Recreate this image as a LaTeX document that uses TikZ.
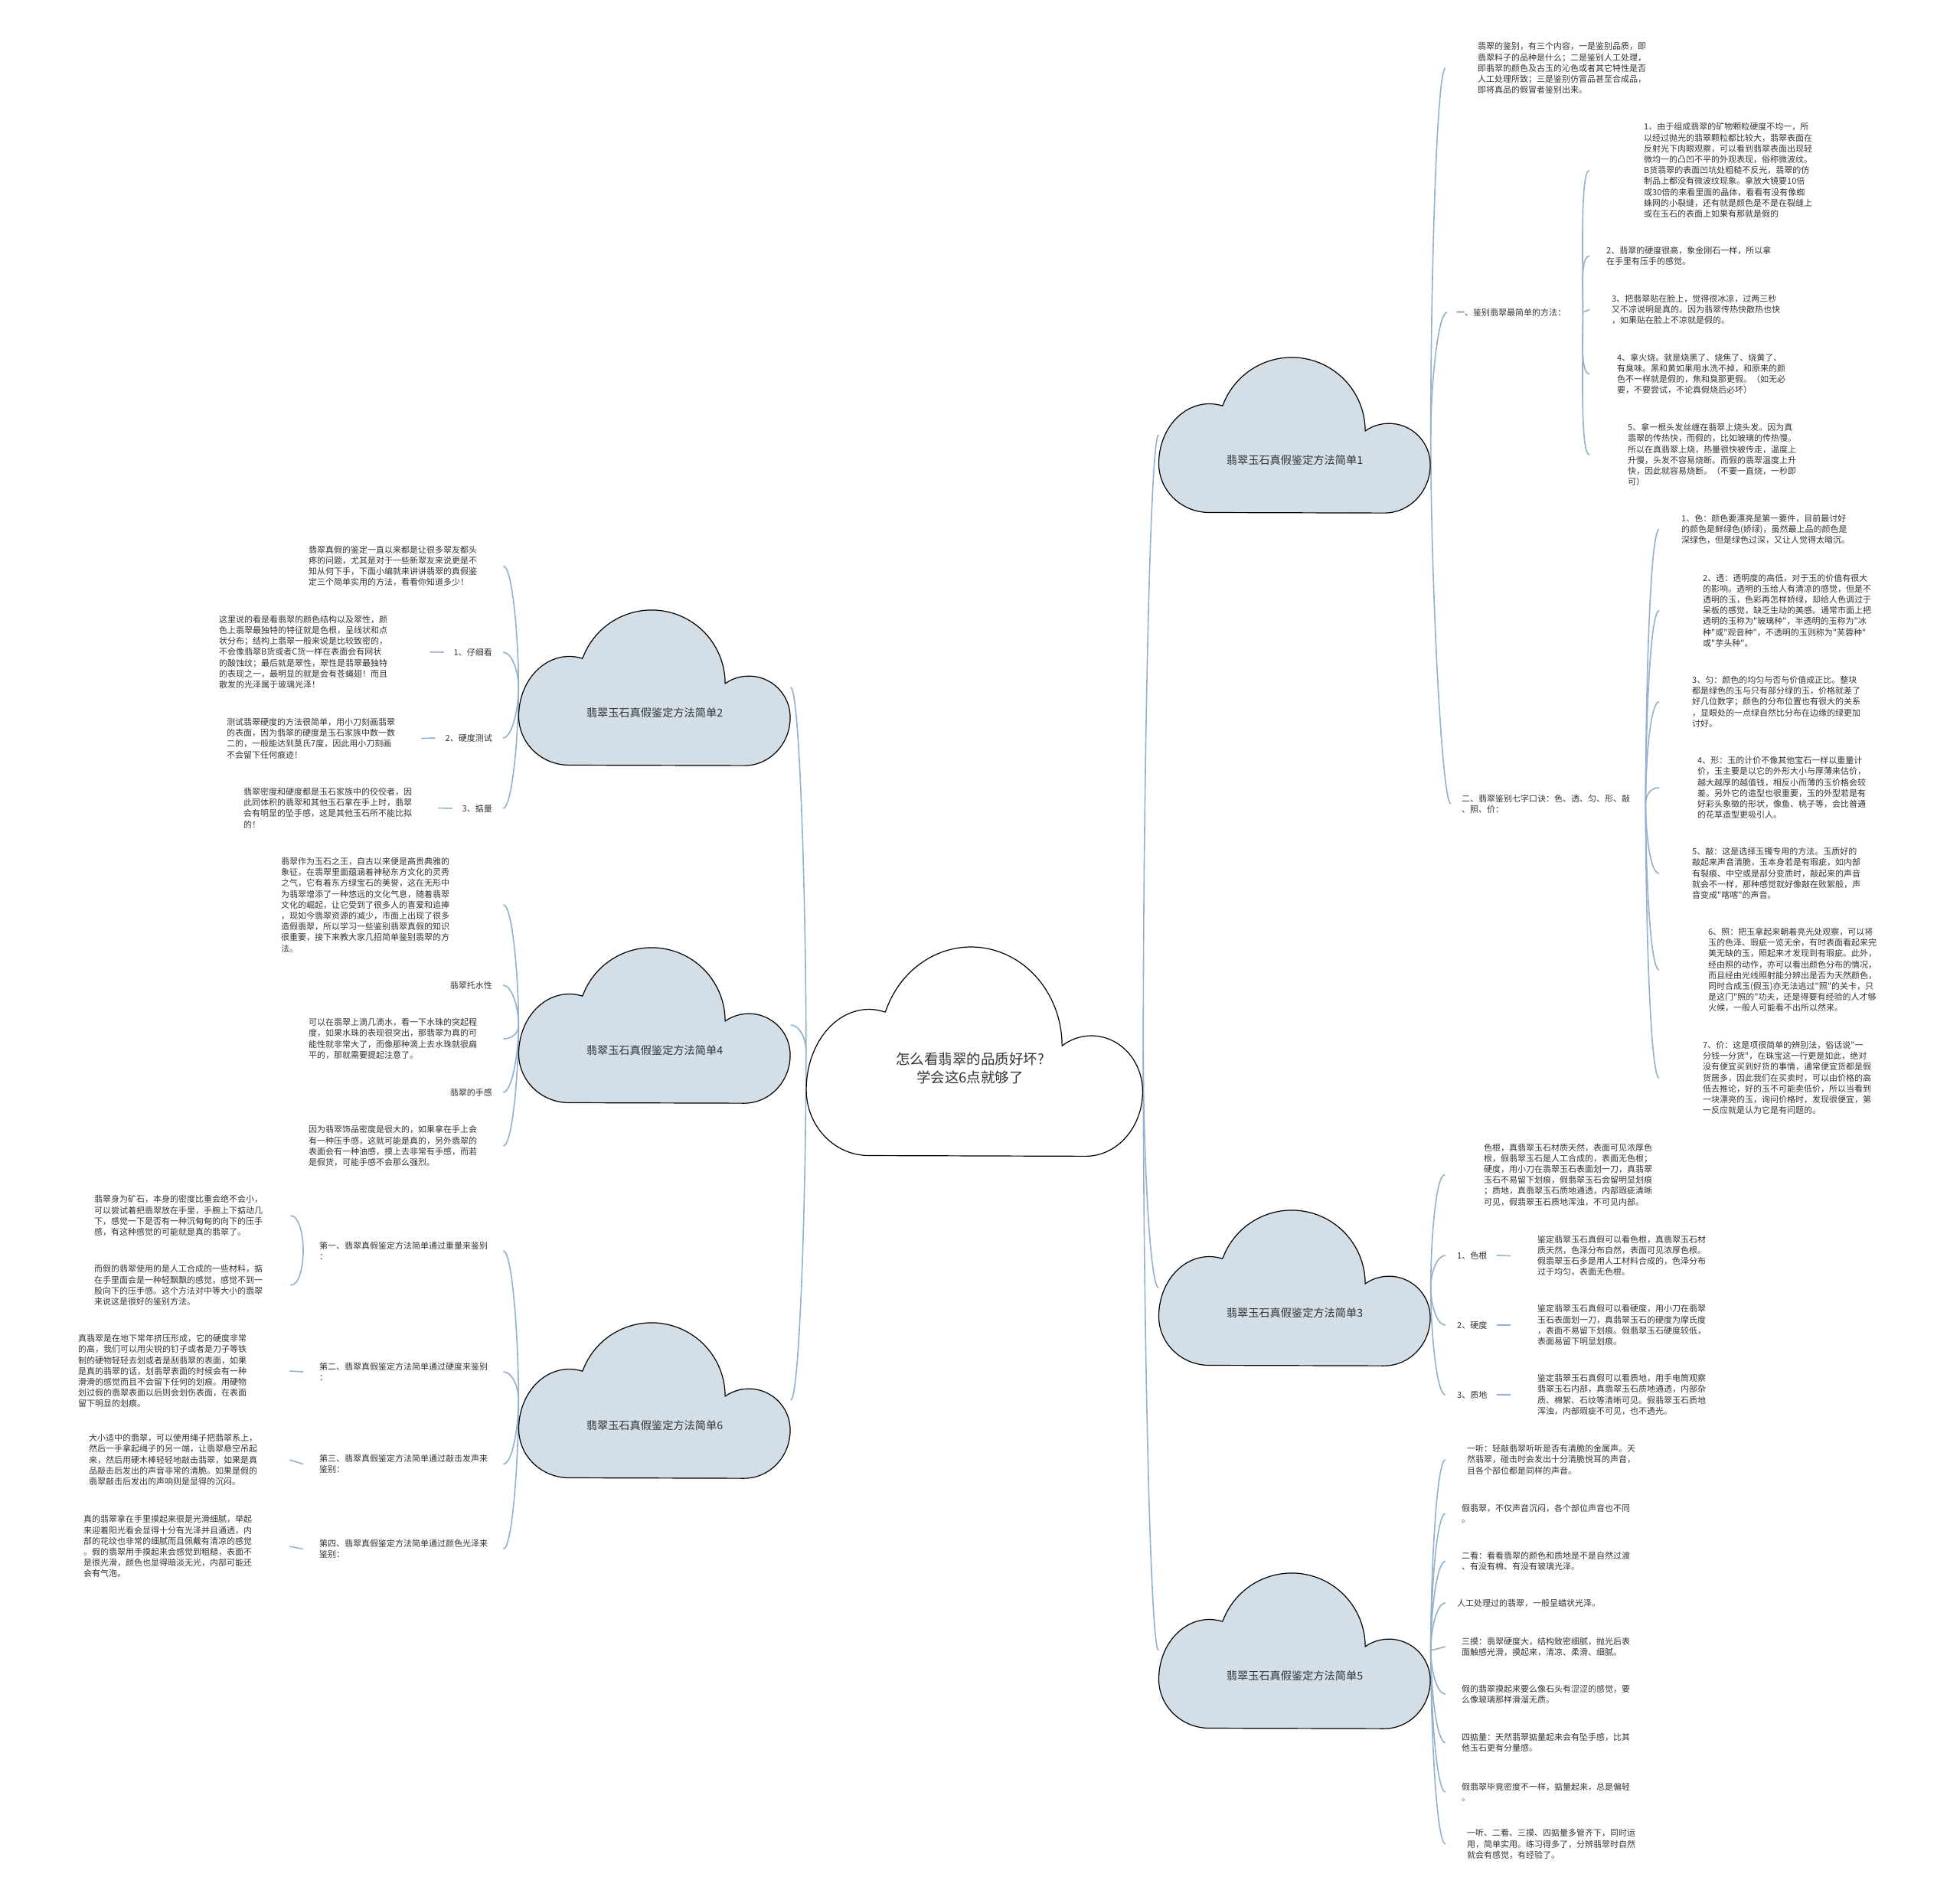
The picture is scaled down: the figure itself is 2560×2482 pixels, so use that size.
\documentclass[tikz,border=0pt]{standalone}
\usepackage{fontspec}
\usepackage{tikz}
\usetikzlibrary{backgrounds}
\newfontfamily\cjk{Noto Sans CJK SC}
\definecolor{linkblue}{HTML}{93B1CD}
\definecolor{cloudfill}{HTML}{D3DEE7}
\definecolor{inkgray}{HTML}{333333}
\newcommand{\leaffont}{\cjk\fontsize{11pt}{14.2pt}\selectfont}
\newcommand{\hubfont}{\cjk\fontsize{14.2pt}{18pt}\selectfont}
\newcommand{\corefont}{\cjk\fontsize{18.5pt}{24pt}\selectfont}

\begin{document}
\begin{tikzpicture}[x=1pt,y=-1pt,
  link/.style={draw=linkblue,line width=1.6pt},
  upR/.style={out=90,in=180,in distance=12pt},
  dnR/.style={out=-90,in=180,in distance=12pt},
  upL/.style={out=90,in=0,in distance=12pt},
  dnL/.style={out=-90,in=0,in distance=12pt},
  leaf/.style={font=\leaffont,align=left,inner sep=0pt,text=inkgray,anchor=west},
  twig/.style={font=\leaffont,inner sep=0pt,text=inkgray,anchor=east},
  hub/.style={minimum width=355pt,minimum height=203pt,inner sep=0pt},
  hubtext/.style={font=\hubfont,text=inkgray,yshift=-33pt},
  core/.style={minimum width=440pt,minimum height=273pt,inner sep=0pt},
  coretext/.style={font=\corefont,text=inkgray,align=center,yshift=-22pt,xshift=-6pt},
  cloud/.pic={\path[pic actions] (-93.5pt,39.5pt)
    arc[start angle=159,end angle=0,radius=96pt]
    arc[start angle=125,end angle=0,radius=54pt]
    arc[start angle=0,end angle=-90,x radius=60pt,y radius=63pt]
    -- (-111.5pt,-101.5pt)
    arc[start angle=-90,end angle=-180,x radius=66pt,y radius=64pt]
    arc[start angle=180,end angle=75,x radius=66pt,y radius=78pt] -- cycle;}]
\path[use as bounding box] (0,0) rectangle (2560,2482);

\pic[draw=black,fill=white,line width=1.2pt,xscale=1.239,yscale=1.345] at (1273,1373) {cloud};
\foreach \cx/\cy in {1691/568,1691/1682,1691/2156,855/898,855/1339,855/1829}
  \pic[draw=black,fill=cloudfill,line width=1.2pt] at (\cx,\cy) {cloud};

\node[core,label={[coretext]center:怎么看翡翠的品质好坏?\\学会这6点就够了}] (core) at (1273,1373) {};
\node[hub,label={[hubtext]center:翡翠玉石真假鉴定方法简单1}] (s1) at (1691,568) {};
\node[hub,label={[hubtext]center:翡翠玉石真假鉴定方法简单3}] (s3) at (1691,1682) {};
\node[hub,label={[hubtext]center:翡翠玉石真假鉴定方法简单5}] (s5) at (1691,2156) {};
\node[hub,label={[hubtext]center:翡翠玉石真假鉴定方法简单2}] (s2) at (855,898) {};
\node[hub,label={[hubtext]center:翡翠玉石真假鉴定方法简单4}] (s4) at (855,1339) {};
\node[hub,label={[hubtext]center:翡翠玉石真假鉴定方法简单6}] (s6) at (855,1829) {};

\node[leaf] (intro1) at (1930,89) {翡翠的鉴别，有三个内容，一是鉴别品质，即\\翡翠料子的品种是什么；二是鉴别人工处理，\\即翡翠的颜色及古玉的沁色或者其它特性是否\\人工处理所致；三是鉴别仿冒品甚至合成品，\\即将真品的假冒者鉴别出来。};
\node[leaf] (m1) at (1902,408) {一、鉴别翡翠最简单的方法：};
\node[leaf] (m2) at (1909,1050) {二、翡翠鉴别七字口诀：色、透、匀、形、敲\\、照、价：};
\node[leaf] (a1) at (2147,222.5) {1、由于组成翡翠的矿物颗粒硬度不均一，所\\以经过抛光的翡翠颗粒都比较大，翡翠表面在\\反射光下肉眼观察，可以看到翡翠表面出现轻\\微均一的凸凹不平的外观表现，俗称微波纹。\\B货翡翠的表面凹坑处粗糙不反光，翡翠的仿\\制品上都没有微波纹现象。拿放大镜要10倍\\或30倍的来看里面的晶体，看看有没有像蜘\\蛛网的小裂缝，还有就是颜色是不是在裂缝上\\或在玉石的表面上如果有那就是假的};
\node[leaf] (a2) at (2098,334.5) {2、翡翠的硬度很高，象金刚石一样，所以拿\\在手里有压手的感觉。};
\node[leaf] (a3) at (2105,404.5) {3、把翡翠贴在脸上，觉得很冰凉，过两三秒\\又不凉说明是真的。因为翡翠传热快散热也快\\，如果贴在脸上不凉就是假的。};
\node[leaf] (a4) at (2112,488.5) {4、拿火烧。就是烧黑了、烧焦了、烧黄了、\\有臭味。黑和黄如果用水洗不掉，和原来的颜\\色不一样就是假的，焦和臭那更假。（如无必\\要，不要尝试，不论真假烧后必坏）};
\node[leaf] (a5) at (2126,594) {5、拿一根头发丝缠在翡翠上烧头发。因为真\\翡翠的传热快，而假的，比如玻璃的传热慢。\\所以在真翡翠上烧，热量很快被传走，温度上\\升慢，头发不容易烧断。而假的翡翠温度上升\\快，因此就容易烧断。（不要一直烧，一秒即\\可）};
\node[leaf] (b1) at (2196,691.7) {1、色：颜色要漂亮是第一要件，目前最讨好\\的颜色是鲜绿色(娇绿)，虽然最上品的颜色是\\深绿色，但是绿色过深，又让人觉得太暗沉。};
\node[leaf] (b2) at (2224,797.5) {2、透：透明度的高低，对于玉的价值有很大\\的影响。透明的玉给人有清凉的感觉，但是不\\透明的玉，色彩再怎样娇绿，却给人色调过于\\呆板的感觉，缺乏生动的美感。通常市面上把\\透明的玉称为"玻璃种"，半透明的玉称为"冰\\种"或"观音种"，不透明的玉则称为"芙蓉种"\\或"芋头种"。};
\node[leaf] (b3) at (2210,916.7) {3、匀：颜色的均匀与否与价值成正比。整块\\都是绿色的玉与只有部分绿的玉，价格就差了\\好几位数字；颜色的分布位置也有很大的关系\\，显眼处的一点绿自然比分布在边缘的绿更加\\讨好。};
\node[leaf] (b4) at (2217,1029) {4、形：玉的计价不像其他宝石一样以重量计\\价，玉主要是以它的外形大小与厚薄来估价，\\越大越厚的越值钱，相反小而薄的玉价格会较\\差。另外它的造型也很重要，玉的外型若是有\\好彩头象徵的形状，像鱼、桃子等，会比普通\\的花草造型更吸引人。};
\node[leaf] (b5) at (2210,1141) {5、敲：这是选择玉镯专用的方法。玉质好的\\敲起来声音清脆，玉本身若是有瑕疵，如内部\\有裂痕、中空或是部分变质时，敲起来的声音\\就会不一样，那种感觉就好像敲在败絮般，声\\音变成"喀喀"的声音。};
\node[leaf] (b6) at (2231,1267) {6、照：把玉拿起来朝着亮光处观察，可以将\\玉的色泽、瑕疵一览无余，有时表面看起来完\\美无缺的玉，照起来才发现到有瑕疵。此外，\\经由照的动作，亦可以看出颜色分布的情况，\\而且经由光线照射能分辨出是否为天然颜色，\\同时合成玉(假玉)亦无法逃过"照"的关卡，只\\是这门"照的"功夫，还是得要有经验的人才够\\火候，一般人可能看不出所以然来。};
\node[leaf] (b7) at (2224,1408) {7、价：这是项很简单的辨别法，俗话说"一\\分钱一分货"，在珠宝这一行更是如此，绝对\\没有便宜买到好货的事情，通常便宜货都是假\\货居多，因此我们在买卖时，可以由价格的高\\低去推论，好的玉不可能卖低价，所以当看到\\一块漂亮的玉，询问价格时，发现很便宜，第\\一反应就是认为它是有问题的。};

\node[leaf] (intro3) at (1938,1534.5) {色根，真翡翠玉石材质天然，表面可见浓厚色\\根，假翡翠玉石是人工合成的，表面无色根；\\硬度，用小刀在翡翠玉石表面划一刀，真翡翠\\玉石不易留下划痕，假翡翠玉石会留明显划痕\\；质地，真翡翠玉石质地通透，内部瑕疵清晰\\可见，假翡翠玉石质地浑浊，不可见内部。};
\node[leaf] (c1) at (1903,1640) {1、色根};
\node[leaf] (c2) at (1903,1731) {2、硬度};
\node[leaf] (c3) at (1903,1822) {3、质地};
\node[leaf] (g1) at (2008,1640.5) {鉴定翡翠玉石真假可以看色根，真翡翠玉石材\\质天然，色泽分布自然，表面可见浓厚色根。\\假翡翠玉石多是用人工材料合成的，色泽分布\\过于均匀，表面无色根。};
\node[leaf] (g2) at (2008,1731) {鉴定翡翠玉石真假可以看硬度，用小刀在翡翠\\玉石表面划一刀，真翡翠玉石的硬度为摩氏度\\，表面不易留下划痕。假翡翠玉石硬度较低，\\表面易留下明显划痕。};
\node[leaf] (g3) at (2008,1822) {鉴定翡翠玉石真假可以看质地，用手电筒观察\\翡翠玉石内部，真翡翠玉石质地通透，内部杂\\质、棉絮、石纹等清晰可见。假翡翠玉石质地\\浑浊，内部瑕疵不可见，也不透光。};

\node[leaf] (d1) at (1916,1906.6) {一听：轻敲翡翠听听是否有清脆的金属声。天\\然翡翠，碰击时会发出十分清脆悦耳的声音，\\且各个部位都是同样的声音。};
\node[leaf] (d2) at (1909,1977) {假翡翠，不仅声音沉闷，各个部位声音也不同\\。};
\node[leaf] (d3) at (1909,2039.5) {二看：看看翡翠的颜色和质地是不是自然过渡\\、有没有棉、有没有玻璃光泽。};
\node[leaf] (d4) at (1903,2094) {人工处理过的翡翠，一般呈蜡状光泽。};
\node[leaf] (d5) at (1909,2151) {三摸：翡翠硬度大，结构致密细腻，抛光后表\\面触感光滑，摸起来，清凉、柔滑、细腻。};
\node[leaf] (d6) at (1909,2213) {假的翡翠摸起来要么像石头有涩涩的感觉，要\\么像玻璃那样滑溜无质。};
\node[leaf] (d7) at (1909,2276.5) {四掂量：天然翡翠掂量起来会有坠手感，比其\\他玉石更有分量感。};
\node[leaf] (d8) at (1909,2341) {假翡翠毕竟密度不一样，掂量起来，总是偏轻\\。};
\node[leaf] (d9) at (1916,2409) {一听、二看、三摸、四掂量多管齐下，同时运\\用，简单实用。练习得多了，分辨翡翠时自然\\就会有感觉，有经验了。};

\node[leaf] (intro2) at (403,739.5) {翡翠真假的鉴定一直以来都是让很多翠友都头\\疼的问题，尤其是对于一些新翠友来说更是不\\知从何下手，下面小编就来讲讲翡翠的真假鉴\\定三个简单实用的方法，看看你知道多少！};
\node[twig] (k1) at (643,852) {1、仔细看};
\node[twig] (k2) at (643,964) {2、硬度测试};
\node[twig] (k3) at (643,1056) {3、掂量};
\node[leaf] (l21) at (286,851.7) {这里说的看是看翡翠的颜色结构以及翠性，颜\\色上翡翠最独特的特征就是色根，呈线状和点\\状分布；结构上翡翠一般来说是比较致密的，\\不会像翡翠B货或者C货一样在表面会有网状\\的酸蚀纹；最后就是翠性，翠性是翡翠最独特\\的表现之一，最明显的就是会有苍蝇翅！而且\\散发的光泽属于玻璃光泽！};
\node[leaf] (l22) at (296,964.6) {测试翡翠硬度的方法很简单，用小刀刻画翡翠\\的表面，因为翡翠的硬度是玉石家族中数一数\\二的，一般能达到莫氏7度，因此用小刀刻画\\不会留下任何痕迹！};
\node[leaf] (l23) at (318,1055.5) {翡翠密度和硬度都是玉石家族中的佼佼者，因\\此同体积的翡翠和其他玉石拿在手上时，翡翠\\会有明显的坠手感，这是其他玉石所不能比拟\\的！};

\node[leaf] (intro4) at (367,1182) {翡翠作为玉石之王，自古以来便是高贵典雅的\\象征，在翡翠里面蕴涵着神秘东方文化的灵秀\\之气，它有着东方绿宝石的美誉，这在无形中\\为翡翠增添了一种悠远的文化气息，随着翡翠\\文化的崛起，让它受到了很多人的喜爱和追捧\\，现如今翡翠资源的减少，市面上出现了很多\\造假翡翠，所以学习一些鉴别翡翠真假的知识\\很重要，接下来教大家几招简单鉴别翡翠的方\\法。};
\node[twig] (n1) at (643,1287) {翡翠托水性};
\node[leaf] (l41) at (403,1357) {可以在翡翠上滴几滴水，看一下水珠的突起程\\度，如果水珠的表现很突出，那翡翠为真的可\\能性就非常大了，而像那种滴上去水珠就很扁\\平的，那就需要提起注意了。};
\node[twig] (n2) at (643,1427) {翡翠的手感};
\node[leaf] (l42) at (403,1497) {因为翡翠饰品密度是很大的，如果拿在手上会\\有一种压手感，这就可能是真的，另外翡翠的\\表面会有一种油感，摸上去非常有手感，而若\\是假货，可能手感不会那么强烈。};

\node[leaf] (p1) at (417,1634) {第一、翡翠真假鉴定方法简单通过重量来鉴别\\：};
\node[leaf] (p2) at (417,1792) {第二、翡翠真假鉴定方法简单通过硬度来鉴别\\：};
\node[leaf] (p3) at (417,1912.5) {第三、翡翠真假鉴定方法简单通过敲击发声来\\鉴别：};
\node[leaf] (p4) at (417,2023.5) {第四、翡翠真假鉴定方法简单通过颜色光泽来\\鉴别：};
\node[leaf] (q1) at (123,1588) {翡翠身为矿石，本身的密度比重会绝不会小，\\可以尝试着把翡翠放在手里，手腕上下掂动几\\下，感觉一下是否有一种沉甸甸的向下的压手\\感，有这种感觉的可能就是真的翡翠了。};
\node[leaf] (q2) at (123,1679) {而假的翡翠使用的是人工合成的一些材料，掂\\在手里面会是一种轻飘飘的感觉，感觉不到一\\股向下的压手感。这个方法对中等大小的翡翠\\来说这是很好的鉴别方法。};
\node[leaf] (q3) at (102,1791) {真翡翠是在地下常年挤压形成，它的硬度非常\\的高，我们可以用尖锐的钉子或者是刀子等铁\\制的硬物轻轻去划或者是刮翡翠的表面，如果\\是真的翡翠的话，划翡翠表面的时候会有一种\\滑滑的感觉而且不会留下任何的划痕。用硬物\\划过假的翡翠表面以后则会划伤表面，在表面\\留下明显的划痕。};
\node[leaf] (q4) at (116,1907) {大小适中的翡翠，可以使用绳子把翡翠系上，\\然后一手拿起绳子的另一端，让翡翠悬空吊起\\来，然后用硬木棒轻轻地敲击翡翠，如果是真\\品敲击后发出的声音非常的清脆。如果是假的\\翡翠敲击后发出的声响则是显得的沉闷。};
\node[leaf] (q5) at (109,2020) {真的翡翠拿在手里摸起来很是光滑细腻，举起\\来迎着阳光看会显得十分有光泽并且通透，内\\部的花纹也非常的细腻而且佩戴有清凉的感觉\\。假的翡翠用手摸起来会感觉到粗糙，表面不\\是很光滑，颜色也显得暗淡无光，内部可能还\\会有气泡。};

\begin{scope}[on background layer]
\fill[white] (0,0) rectangle (2560,2482);
\draw[link] (core.west) to[upL] (s2.east);
\draw[link] (core.west) to[upL] (s4.east);
\draw[link] (core.west) to[dnL] (s6.east);
\draw[link] (core.east) to[upR] (s1.west);
\draw[link] (core.east) to[dnR] (s3.west);
\draw[link] (core.east) to[dnR] (s5.west);

\draw[link] (s1.east) to[upR] ([xshift=-42pt]intro1.west);
\draw[link] (s1.east) to[upR] ([xshift=-12pt]m1.west);
\draw[link] (s1.east) to[dnR] ([xshift=-14pt]m2.west);
\draw[link] ([xshift=22pt]m1.east) to[upR] ([xshift=-71pt]a1.west);
\draw[link] ([xshift=22pt]m1.east) to[upR] ([xshift=-22pt]a2.west);
\draw[link] ([xshift=22pt]m1.east) -- ([xshift=-29pt]a3.west);
\draw[link] ([xshift=22pt]m1.east) to[dnR] ([xshift=-36pt]a4.west);
\draw[link] ([xshift=22pt]m1.east) to[dnR] ([xshift=-50pt]a5.west);
\draw[link] ([xshift=20pt]m2.east) to[upR] ([xshift=-29pt]b1.west);
\draw[link] ([xshift=20pt]m2.east) to[upR] ([xshift=-57pt]b2.west);
\draw[link] ([xshift=20pt]m2.east) to[upR] ([xshift=-43pt]b3.west);
\draw[link] ([xshift=20pt]m2.east) to[upR] ([xshift=-50pt]b4.west);
\draw[link] ([xshift=20pt]m2.east) to[dnR] ([xshift=-43pt]b5.west);
\draw[link] ([xshift=20pt]m2.east) to[dnR] ([xshift=-64pt]b6.west);
\draw[link] ([xshift=20pt]m2.east) to[dnR] ([xshift=-57pt]b7.west);

\draw[link] (s3.east) to[upR] ([xshift=-51pt]intro3.west);
\draw[link] (s3.east) to[upR] ([xshift=-15pt]c1.west);
\draw[link] (s3.east) to[dnR] ([xshift=-15pt]c2.west);
\draw[link] (s3.east) to[dnR] ([xshift=-15pt]c3.west);
\draw[link] ([xshift=12pt]c1.east) -- ([xshift=-35pt]g1.west);
\draw[link] ([xshift=12pt]c2.east) -- ([xshift=-35pt]g2.west);
\draw[link] ([xshift=12pt]c3.east) -- ([xshift=-35pt]g3.west);

\draw[link] (s5.east) to[upR] ([xshift=-28pt]d1.west);
\draw[link] (s5.east) to[upR] ([xshift=-21pt]d2.west);
\draw[link] (s5.east) to[upR] ([xshift=-21pt]d3.west);
\draw[link] (s5.east) to[upR] ([xshift=-15pt]d4.west);
\draw[link] (s5.east) -- ([xshift=-21pt]d5.west);
\draw[link] (s5.east) to[dnR] ([xshift=-21pt]d6.west);
\draw[link] (s5.east) to[dnR] ([xshift=-21pt]d7.west);
\draw[link] (s5.east) to[dnR] ([xshift=-21pt]d8.west);
\draw[link] (s5.east) to[dnR] ([xshift=-28pt]d9.west);

\draw[link] (s2.west) to[upL] ([xshift=34pt]intro2.east);
\draw[link] (s2.west) to[upL] ([xshift=14pt]k1.east);
\draw[link] (s2.west) to[dnL] ([xshift=14pt]k2.east);
\draw[link] (s2.west) to[dnL] ([xshift=14pt]k3.east);
\draw[link] ([xshift=-13pt]k1.west) -- ([xshift=55pt]l21.east);
\draw[link] ([xshift=-13pt]k2.west) -- ([xshift=34pt]l22.east);
\draw[link] ([xshift=-13pt]k3.west) -- ([xshift=34pt]l23.east);

\draw[link] (s4.west) to[upL] ([xshift=70pt]intro4.east);
\draw[link] (s4.west) to[upL] ([xshift=14pt]n1.east);
\draw[link] (s4.west) to[dnL] ([xshift=34pt]l41.east);
\draw[link] (s4.west) to[dnL] ([xshift=14pt]n2.east);
\draw[link] (s4.west) to[dnL] ([xshift=34pt]l42.east);

\draw[link] (s6.west) to[upL] ([xshift=20pt]p1.east);
\draw[link] (s6.west) to[upL] ([xshift=20pt]p2.east);
\draw[link] (s6.west) to[dnL] ([xshift=20pt]p3.east);
\draw[link] (s6.west) to[dnL] ([xshift=20pt]p4.east);
\draw[link] ([xshift=-21pt]p1.west) to[upL] ([xshift=36pt]q1.east);
\draw[link] ([xshift=-21pt]p1.west) to[dnL] ([xshift=36pt]q2.east);
\draw[link] ([xshift=-21pt]p2.west) -- ([xshift=56pt]q3.east);
\draw[link] ([xshift=-21pt]p3.west) -- ([xshift=42pt]q4.east);
\draw[link] ([xshift=-21pt]p4.west) -- ([xshift=49pt]q5.east);
\end{scope}
\end{tikzpicture}
\end{document}
